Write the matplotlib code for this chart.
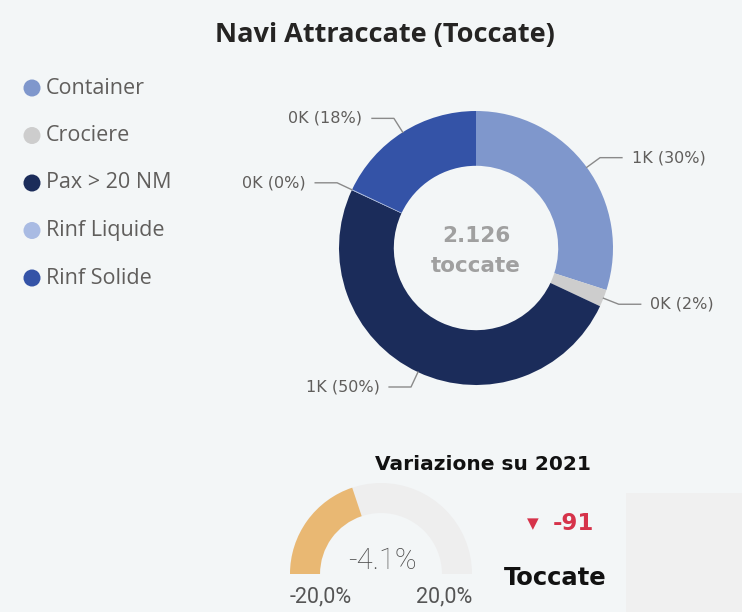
import matplotlib.pyplot as plt
import numpy as np
from matplotlib.patches import Wedge, Rectangle

# ship calls by category
categories = ['Container', 'Crociere', 'Pax > 20 NM', 'Rinf Liquide', 'Rinf Solide']
toccate = [637, 43, 1062, 2, 382]
colors = ['#7f97cc', '#cdcdcd', '#1b2c5a', '#a9bbe3', '#3453a7']

# change vs previous year
variazione_pct = -4.1
gauge_min, gauge_max = -20.0, 20.0
delta_toccate = -91

bg = '#f3f6f7'
W, H = 742, 612

fig = plt.figure(figsize=(W / 100, H / 100), dpi=100, facecolor=bg)

# overlay axes in pixel coordinates for texts and legend
ax = fig.add_axes([0, 0, 1, 1])
ax.set_xlim(0, W)
ax.set_ylim(H, 0)
ax.axis('off')

ax.text(385, 35, 'Navi Attraccate (Toccate)', ha='center', va='center',
        fontsize=19.5, fontweight='bold', family='Open Sans', color='#252423')

# legend
for i, (cat, col) in enumerate(zip(categories, colors)):
    y = 88 + i * 47.5
    ax.scatter([32], [y], s=150, color=col, edgecolor='none')
    ax.text(46, y, cat, ha='left', va='center', fontsize=15.5,
            family='Open Sans', color='#605e5c')

# donut
cx, cy, R = 476, 248, 137
dax = fig.add_axes([(cx - R) / W, (H - cy - R) / H, 2 * R / W, 2 * R / H])
wedges, _ = dax.pie(toccate, colors=colors, startangle=90, counterclock=False,
                    radius=1, wedgeprops=dict(width=0.4, linewidth=0))
dax.set_xlim(-1, 1)
dax.set_ylim(-1, 1)
dax.axis('off')

total = sum(toccate)
for w, v in zip(wedges, toccate):
    ang = np.deg2rad((w.theta1 + w.theta2) / 2)
    c, s = np.cos(ang), np.sin(ang)
    side = 1 if c >= 0 else -1
    ex, ey = 1.12 * c, 1.12 * s
    hx = ex + side * 0.16
    dax.plot([1.0 * c, ex, hx], [1.0 * s, ey, ey], color='#8a8a8a', lw=1,
             clip_on=False)
    label = f'{v / 1000:.0f}K ({v / total:.0%})'
    dax.text(hx + side * 0.07, ey, label, ha='left' if side > 0 else 'right',
             va='center', fontsize=11.5, family='DejaVu Sans', color='#605e5c',
             clip_on=False)

dax.text(0, 0.09, f'{total:,}'.replace(',', '.'), ha='center', va='center',
         fontsize=15.5, fontweight='bold', family='DejaVu Sans', color='#a0a0a0')
dax.text(0, -0.13, 'toccate', ha='center', va='center',
         fontsize=15.5, fontweight='bold', family='DejaVu Sans', color='#a0a0a0')

# gauge
gx, gy, GR = 381, 574, 91
gax = fig.add_axes([(gx - GR) / W, (H - gy) / H, 2 * GR / W, GR / H])
gax.set_xlim(-1, 1)
gax.set_ylim(0, 1)
gax.axis('off')
gax.add_patch(Wedge((0, 0), 1, 0, 180, width=0.33, color='#eeeeee', lw=0))
frac = (variazione_pct - gauge_min) / (gauge_max - gauge_min)
gax.add_patch(Wedge((0, 0), 1, 180 - frac * 180, 180, width=0.33,
                    color='#e9b873', lw=0))

ax.text(gx + 1, 561, f'{variazione_pct:.1f}%', ha='center', va='center',
        fontsize=21, fontweight='light', family='Roboto', color='#4a4a4a')
ax.text(gx - GR, 597, f'{gauge_min:.1f}%'.replace('.', ','), ha='left', va='center',
        fontsize=15.5, family='Roboto', color='#555555')
ax.text(gx + GR, 597, f'{gauge_max:.1f}%'.replace('.', ','), ha='right', va='center',
        fontsize=15.5, family='Roboto', color='#555555')

ax.text(483, 465, 'Variazione su 2021', ha='center', va='center',
        fontsize=14.5, fontweight='heavy', family='DejaVu Sans', color='#111111')
ax.text(533, 524, '\u25bc', ha='center', va='center', fontsize=11,
        family='DejaVu Sans', color='#d6334a')
ax.text(553, 524, f'{delta_toccate}', ha='left', va='center', fontsize=16.5,
        fontweight='bold', family='DejaVu Sans', color='#d6334a')
ax.text(555, 578, 'Toccate', ha='center', va='center', fontsize=17.5,
        fontweight='heavy', family='DejaVu Sans', color='#111111')

ax.add_patch(Rectangle((626, 493), W - 626, H - 493, color='#f0f0f0', lw=0))

fig.savefig('out.png', dpi=100, facecolor=bg)
